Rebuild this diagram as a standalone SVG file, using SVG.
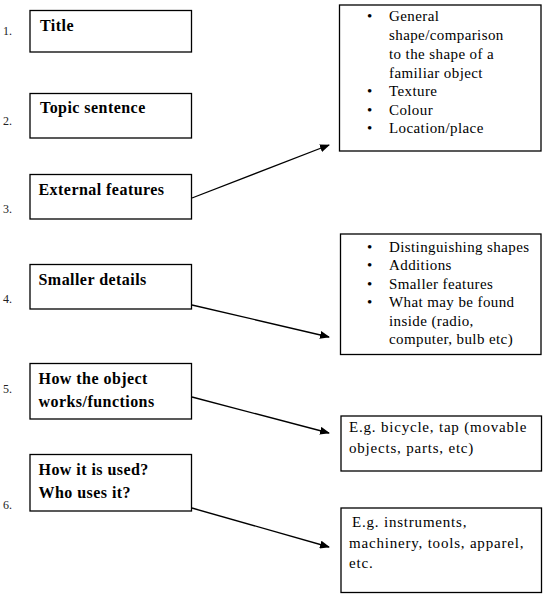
<svg xmlns="http://www.w3.org/2000/svg" width="548" height="596" viewBox="0 0 548 596">
<style>
.box{fill:#fff;stroke:#000;stroke-width:1.3}
.num{font-family:'Liberation Serif','Times New Roman','DejaVu Serif',serif;font-size:12px;fill:#222}
.hd{font-family:'Liberation Serif','Times New Roman','DejaVu Serif',serif;font-size:16px;font-weight:bold;letter-spacing:0.45px;fill:#000}
.tx{font-family:'Liberation Serif','Times New Roman','DejaVu Serif',serif;font-size:15px;letter-spacing:0.4px;fill:#000}
.tx2{font-family:'Liberation Serif','Times New Roman','DejaVu Serif',serif;font-size:15px;letter-spacing:0.8px;fill:#000}
.con{stroke:#000;stroke-width:1.3;fill:none}
</style>
<defs>
<marker id="arr" markerUnits="userSpaceOnUse" markerWidth="10" markerHeight="8" refX="9" refY="4" orient="auto">
<path d="M0,0 L10,4 L0,8 Z" fill="#000"/>
</marker>
</defs>
<rect width="548" height="596" fill="#fff"/>

<g id="n1">
<text class="num" x="3" y="35">1.</text>
<rect class="box" x="30" y="10.5" width="161.5" height="41.5"/>
<text class="hd" x="40" y="31">Title</text>
</g>
<g id="n2">
<text class="num" x="3" y="125">2.</text>
<rect class="box" x="30" y="93.5" width="161.5" height="44.5"/>
<text class="hd" x="40" y="113">Topic sentence</text>
</g>
<g id="n3">
<text class="num" x="3" y="213">3.</text>
<rect class="box" x="30" y="174.5" width="161.5" height="44.5"/>
<text class="hd" x="38.5" y="195">External features</text>
</g>
<g id="n4">
<text class="num" x="3" y="303">4.</text>
<rect class="box" x="30" y="264.5" width="161.5" height="44.5"/>
<text class="hd" x="38.5" y="285">Smaller details</text>
</g>
<g id="n5">
<text class="num" x="3" y="393">5.</text>
<rect class="box" x="30" y="363.5" width="161.5" height="55.5"/>
<text class="hd" x="38.5" y="384">How the object</text>
<text class="hd" x="38.5" y="407">works/functions</text>
</g>
<g id="n6">
<text class="num" x="3" y="509">6.</text>
<rect class="box" x="30" y="454.5" width="161.5" height="56.5"/>
<text class="hd" x="38.5" y="475">How it is used?</text>
<text class="hd" x="38.5" y="498">Who uses it?</text>
</g>

<g id="nA">
<rect class="box" x="339.5" y="5" width="201.5" height="146"/>
<text class="tx" x="367" y="21">•</text>
<text class="tx" x="389" y="21">General</text>
<text class="tx" x="389" y="40">shape/comparison</text>
<text class="tx" x="389" y="59">to the shape of a</text>
<text class="tx" x="389" y="78">familiar object</text>
<text class="tx" x="367" y="96">•</text>
<text class="tx" x="389" y="96">Texture</text>
<text class="tx" x="367" y="115">•</text>
<text class="tx" x="389" y="115">Colour</text>
<text class="tx" x="367" y="133">•</text>
<text class="tx" x="389" y="133">Location/place</text>
</g>
<g id="nB">
<rect class="box" x="340.5" y="234" width="200.5" height="120.5"/>
<text class="tx" x="367" y="252">•</text>
<text class="tx" x="389" y="252">Distinguishing shapes</text>
<text class="tx" x="367" y="270">•</text>
<text class="tx" x="389" y="270">Additions</text>
<text class="tx" x="367" y="289">•</text>
<text class="tx" x="389" y="289">Smaller features</text>
<text class="tx" x="367" y="307">•</text>
<text class="tx" x="389" y="307">What may be found</text>
<text class="tx" x="389" y="326">inside (radio,</text>
<text class="tx" x="389" y="344">computer, bulb etc)</text>
</g>
<g id="nC">
<rect class="box" x="341" y="416" width="200.5" height="55"/>
<text class="tx2" x="349" y="432">E.g. bicycle, tap (movable</text>
<text class="tx2" x="349" y="453">objects, parts, etc)</text>
</g>
<g id="nD">
<rect class="box" x="341" y="508" width="200.5" height="84.5"/>
<text class="tx2" x="352" y="527">E.g. instruments,</text>
<text class="tx2" x="349" y="548">machinery, tools, apparel,</text>
<text class="tx2" x="349" y="568">etc.</text>
</g>

<g id="connectors">
<line class="con" x1="192" y1="198" x2="329" y2="145" marker-end="url(#arr)"/>
<line class="con" x1="192" y1="305" x2="329" y2="337" marker-end="url(#arr)"/>
<line class="con" x1="192" y1="397" x2="329" y2="433" marker-end="url(#arr)"/>
<line class="con" x1="192" y1="508" x2="329" y2="547" marker-end="url(#arr)"/>
</g>
</svg>
